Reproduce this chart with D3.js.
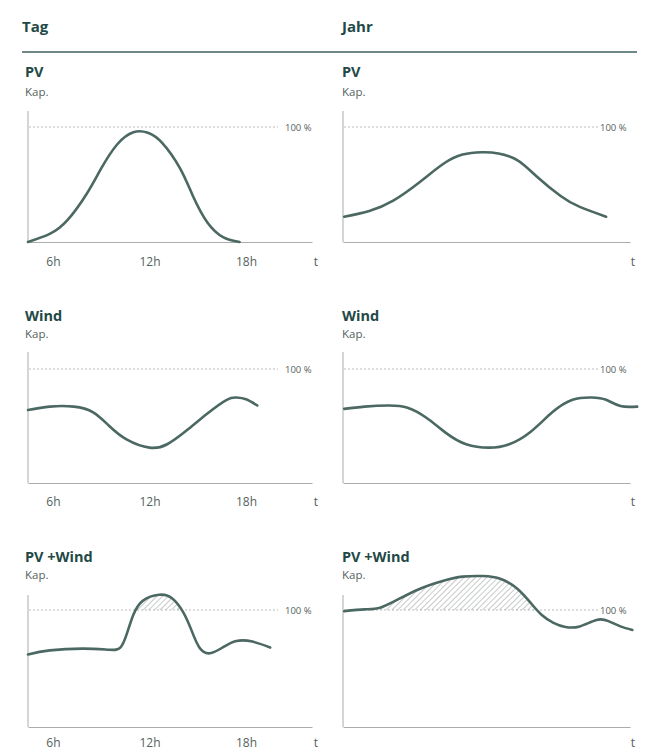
<!DOCTYPE html>
<html><head><meta charset="utf-8">
<script src="https://cdn.jsdelivr.net/npm/d3@7"></script>
<style>
html,body{margin:0;padding:0;background:#fff;}
svg{display:block;font-family:"Open Sans",Lato,sans-serif;}
</style></head>
<body>
<svg id="c" width="646" height="751"></svg>
<script>
// ---- data ----
const columnTitles = ["Tag", "Jahr"];
const rowTitles = ["PV", "Wind", "PV +Wind"];
const yLabel = "Kap.";
const refLabel = "100 %";
const refValue = 100;
const xAxisLabel = "t";
const tagTicks = [6, 12, 18];
const tagTickLabels = ["6h", "12h", "18h"];

// Tag: [hour, % of capacity]
const pvTag = [[4.45,0],[5.8,7],[6.9,19],[8.1,42],[9.0,64],[10.0,85],[11.0,95.5],[11.9,95],[12.8,86],[13.9,64],[14.7,40],[15.6,17],[16.6,4],[17.6,0]];
const windTag = [[4.45,64],[5.8,67],[7.3,67],[8.5,62],[9.5,50],[10.6,38],[12.0,31],[13.1,34],[14.3,46],[15.6,61],[16.8,73],[17.4,75],[18.0,73.5],[18.7,68]];
const pvWindTag = [[4.45,62],[5.8,65.5],[7.9,67],[9.5,66],[10.2,68],[10.6,80],[11.0,96],[11.6,108],[12.6,113],[13.4,110],[14.1,98],[14.6,83],[15.1,68],[15.75,63],[16.55,68],[17.4,73.5],[18.4,73],[19.5,68]];
// Jahr: [month, % of capacity]
const pvJahr = [[0.05,22],[1.1,27],[2.1,36],[3.2,52],[4.2,68],[5.0,76],[5.8,78],[6.5,77],[7.3,71],[8.1,57],[9.1,40],[9.9,30.5],[11.0,22]];
const windJahr = [[0.05,65],[0.9,67],[1.9,68],[2.7,66],[3.5,57],[4.3,44],[5.15,34],[6.1,31],[6.95,34],[7.85,45],[8.75,62],[9.6,73],[10.4,75],[11.0,73],[11.6,67.5],[12.3,67]];
const pvWindJahr = [[0.05,99],[0.9,100.5],[1.55,102],[2.3,109],[3.2,118],[4.2,125],[5.0,128.5],[5.85,129],[6.6,126.5],[7.3,118],[7.85,106],[8.3,96],[8.8,89],[9.3,85.5],[9.9,86],[10.6,91.5],[11.1,90.5],[11.6,86],[12.1,83]];

const tagDomain = [4.45, 22.1];
const jahrDomain = [0, 12];

// ---- layout ----
const svg = d3.select("#c");
const C = {title:"#1f4946", text:"#555f5d", line:"#4b6863", axis:"#a9adab", ref:"#b9bcbb", rule:"#6f8a86"};
const FONT = "'Open Sans', Lato, sans-serif";

const cols = [{x0:28, x1:312, dashEnd:278, refX:285, tX:316, titleX:22, panelX:25, domain:tagDomain},
              {x0:343, x1:630, dashEnd:598, refX:600, tX:633, titleX:342, panelX:342, domain:jahrDomain}];
const rows = [{title:77, kap:96, top:111, base:242, hundred:127, tick:266},
              {title:321, kap:338, top:352, base:483, hundred:369, tick:506},
              {title:562, kap:579, top:595, base:727, hundred:610, tick:747}];
const series = [[pvTag, pvJahr],[windTag, windJahr],[pvWindTag, pvWindJahr]];

// header
columnTitles.forEach((t,i)=>{
  svg.append("text").attr("x", cols[i].titleX).attr("y", 32).text(t)
    .attr("font-size", 15).attr("font-weight", 700).attr("fill", C.title);
});
svg.append("line").attr("x1",22).attr("x2",637).attr("y1",52).attr("y2",52)
  .attr("stroke", C.rule).attr("stroke-width", 2.2);

// hatch pattern
const defs = svg.append("defs");
const pat = defs.append("pattern").attr("id","hatch").attr("patternUnits","userSpaceOnUse")
  .attr("width",4).attr("height",4).attr("patternTransform","rotate(45)");
pat.append("line").attr("x1",0).attr("y1",0).attr("x2",0).attr("y2",4)
  .attr("stroke","#8f9694").attr("stroke-width",1);

rows.forEach((r,ri)=>{
  cols.forEach((c,ci)=>{
    const data = series[ri][ci];
    const x = d3.scaleLinear().domain(c.domain).range([c.x0, c.x1]);
    const y = d3.scaleLinear().domain([0, refValue]).range([r.base, r.hundred]);
    const g = svg.append("g");

    g.append("text").attr("x", c.panelX).attr("y", r.title).text(rowTitles[ri])
      .attr("font-size", 14.5).attr("font-weight", 700).attr("fill", C.title);
    g.append("text").attr("x", c.panelX).attr("y", r.kap).text(yLabel)
      .attr("font-size", 11.5).attr("fill", C.text);

    // y axis line
    g.append("line").attr("x1", c.x0).attr("x2", c.x0).attr("y1", r.top).attr("y2", r.base)
      .attr("stroke", C.axis).attr("stroke-width", 1);
    // x axis
    const ax = d3.axisBottom(x).tickSize(0).tickSizeOuter(0).tickPadding(12);
    if (ci === 0) ax.tickValues(tagTicks).tickFormat((d,i)=>tagTickLabels[i]);
    else ax.tickValues([]);
    const axg = g.append("g").attr("transform", `translate(0,${r.base})`).call(ax);
    axg.select(".domain").attr("stroke", C.axis).attr("stroke-width", 1);
    axg.selectAll("text").attr("font-size", 12).attr("fill", C.text)
      .attr("font-family", FONT)
      .attr("dy", null).attr("y", r.tick - r.base);
    g.append("text").attr("x", c.tX).attr("y", r.tick).text(xAxisLabel)
      .attr("font-size", 12).attr("fill", C.text).attr("text-anchor","middle");

    // 100% reference
    g.append("line").attr("x1", c.x0 + 1).attr("x2", c.dashEnd)
      .attr("y1", y(refValue)).attr("y2", y(refValue))
      .attr("stroke", C.ref).attr("stroke-width", 1).attr("stroke-dasharray", "2,2");
    g.append("text").attr("x", c.refX).attr("y", y(refValue) + 3.5).text(refLabel)
      .attr("font-size", 9.5).attr("fill", C.text);

    // hatched overflow area
    const cid = `clip${ri}${ci}`;
    defs.append("clipPath").attr("id", cid).append("rect")
      .attr("x", c.x0).attr("y", r.top - 40).attr("width", c.x1 - c.x0 + 20)
      .attr("height", y(refValue) - (r.top - 40));
    const curve = d3.curveNatural;
    const area = d3.area().x(d=>x(d[0])).y0(y(refValue)).y1(d=>y(d[1])).curve(curve);
    if (d3.max(data, d=>d[1]) > refValue) {
      g.append("path").attr("d", area(data)).attr("fill", "url(#hatch)")
        .attr("clip-path", `url(#${cid})`);
    }
    const line = d3.line().x(d=>x(d[0])).y(d=>y(d[1])).curve(curve);
    g.append("path").attr("d", line(data)).attr("fill","none")
      .attr("stroke", C.line).attr("stroke-width", 2.6).attr("stroke-linecap","round");
  });
});
</script>
</body></html>
